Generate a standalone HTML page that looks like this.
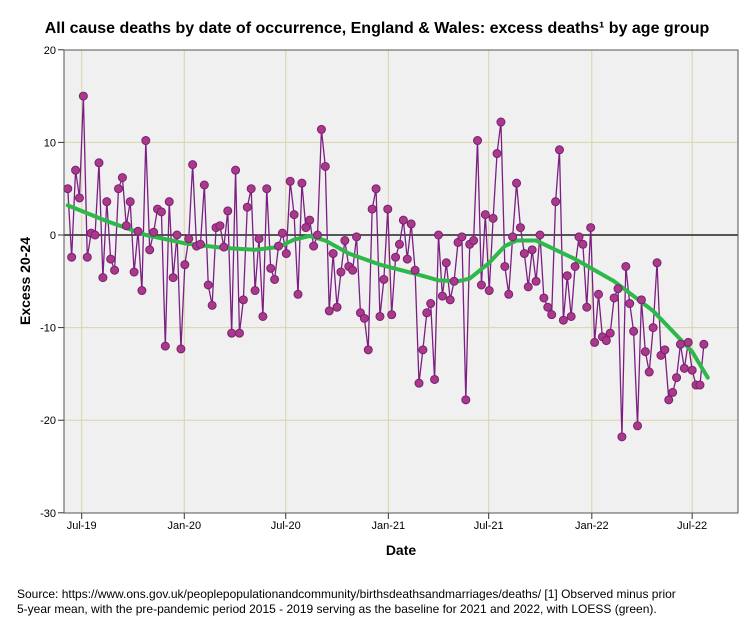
<!DOCTYPE html>
<html><head><meta charset="utf-8"><style>
body{margin:0;background:#fff;width:754px;height:624px;overflow:hidden;font-family:"Liberation Sans",sans-serif}
</style></head><body>
<svg id="chart" width="754" height="624" xmlns="http://www.w3.org/2000/svg" font-family="Liberation Sans, sans-serif">
<text x="377" y="33" text-anchor="middle" font-size="16" font-weight="bold">All cause deaths by date of occurrence, England &amp; Wales: excess deaths¹ by age group</text>
<rect x="64" y="50" width="674" height="463" fill="#f0f0f0"/>
<g id="grid"></g>
<g id="axes"></g>
<g id="series"></g>
<rect x="64" y="50" width="674" height="463" fill="none" stroke="#555" stroke-width="1"/>
<text transform="translate(30,281) rotate(-90)" text-anchor="middle" font-size="14" font-weight="bold">Excess 20-24</text>
<text x="401" y="555" text-anchor="middle" font-size="14" font-weight="bold">Date</text>
<text x="17" y="598" font-size="12">Source: https://www.ons.gov.uk/peoplepopulationandcommunity/birthsdeathsandmarriages/deaths/  [1] Observed minus prior</text>
<text x="17" y="613" font-size="12">5-year mean, with the pre-pandemic period 2015 - 2019 serving as the baseline for 2021 and 2022, with LOESS (green).</text>
</svg>
<script>
const values=[5,-2.4,7,4,15,-2.4,0.2,0,7.8,-4.6,3.6,-2.6,-3.8,5,6.2,1,3.6,-4,0.4,-6,10.2,-1.6,0.3,2.8,2.5,-12,3.6,-4.6,0,-12.3,-3.2,-0.4,7.6,-1.2,-1,5.4,-5.4,-7.6,0.8,1,-1.3,2.6,-10.6,7,-10.6,-7,3,5,-6,-0.4,-8.8,5,-3.6,-4.8,-1.2,0.2,-2,5.8,2.2,-6.4,5.6,0.8,1.6,-1.2,0,11.4,7.4,-8.2,-2,-7.8,-4,-0.6,-3.4,-3.8,-0.2,-8.4,-9,-12.4,2.8,5,-8.8,-4.8,2.8,-8.6,-2.4,-1,1.6,-2.6,1.2,-3.8,-16,-12.4,-8.4,-7.4,-15.6,0,-6.6,-3,-7,-5,-0.8,-0.2,-17.8,-1,-0.6,10.2,-5.4,2.2,-6,1.8,8.8,12.2,-3.4,-6.4,-0.2,5.6,0.8,-2,-5.6,-1.6,-5,0,-6.8,-7.8,-8.6,3.6,9.2,-9.2,-4.4,-8.8,-3.4,-0.2,-1,-7.8,0.8,-11.6,-6.4,-11,-11.4,-10.6,-6.8,-5.8,-21.8,-3.4,-7.4,-10.4,-20.6,-7,-12.6,-14.8,-10,-3,-13,-12.4,-17.8,-17,-15.4,-11.8,-14.4,-11.6,-14.6,-16.2,-16.2,-11.8];
const loessWeek=[0,10,20,30,40,48,54,58,62,66,72,80,90,95,100,103,108,112,115,120,130,140,150,160,164];
const loessVal=[3.2,1.5,0,-0.9,-1.4,-1.6,-1.3,-0.5,-0.1,-0.6,-2,-3.2,-4.3,-4.9,-5,-4.7,-3,-1.2,-0.6,-0.6,-2.6,-5,-8.2,-12.6,-15.4];
const yTicks=[20,10,0,-10,-20,-30];
const xTickLabels=["Jul-19","Jan-20","Jul-20","Jan-21","Jul-21","Jan-22","Jul-22"];
const xTickDays=[0,184,366,550,730,915,1095];
const startOffsetDays=-25;
const NS="http://www.w3.org/2000/svg";
const X0=81.7,PXD=0.5575;
function xDay(d){return X0+d*PXD;}
function xWeek(i){return xDay(startOffsetDays+i*7);}
function y(v){return 235-v*9.26;}
function mk(tag,attrs,parent){const e=document.createElementNS(NS,tag);for(const k in attrs)e.setAttribute(k,attrs[k]);parent.appendChild(e);return e;}
const grid=document.getElementById('grid'),axes=document.getElementById('axes'),ser=document.getElementById('series');
yTicks.forEach(t=>{
  if(t!==0&&t!==20&&t!==-30){const l=mk('line',{x1:64,x2:738,y1:y(t),y2:y(t),stroke:'#d9d4a6','stroke-width':1},grid);
  
  }
  const tk=mk('line',{x1:58,x2:64,y1:y(t),y2:y(t),stroke:'#333'},axes);
  
  
  const tx=mk('text',{x:56,y:y(t)+4,'text-anchor':'end','font-size':11},axes);tx.textContent=t;
  
  
});
xTickDays.forEach((d,i)=>{
  const l=mk('line',{x1:xDay(d),x2:xDay(d),y1:50,y2:513,stroke:'#d9d4a6','stroke-width':1},grid);
  
  
  const tk=mk('line',{x1:xDay(d),x2:xDay(d),y1:513,y2:519,stroke:'#333'},axes);
  
  
  const tx=mk('text',{x:xDay(d),y:529,'text-anchor':'middle','font-size':11},axes);tx.textContent=xTickLabels[i];
  
  
});
const zl=mk('line',{x1:64,x2:738,y1:y(0),y2:y(0),stroke:'#222','stroke-width':1.5},axes);


const pl=mk('polyline',{points:values.map((v,i)=>xWeek(i)+','+y(v)).join(' '),fill:'none',stroke:'#7b1f82','stroke-width':1.3},ser);


const lo=mk('polyline',{points:loessWeek.map((w,i)=>xWeek(w)+','+y(loessVal[i])).join(' '),fill:'none',stroke:'#2db84a','stroke-width':4,'stroke-linejoin':'round','stroke-linecap':'round'},ser);


values.forEach((v,i)=>{
  const c=mk('circle',{cx:xWeek(i),cy:y(v),r:4,fill:'#a93a8a',stroke:'#7b1f72','stroke-width':1},ser);
  
  
});
</script>
</body></html>
